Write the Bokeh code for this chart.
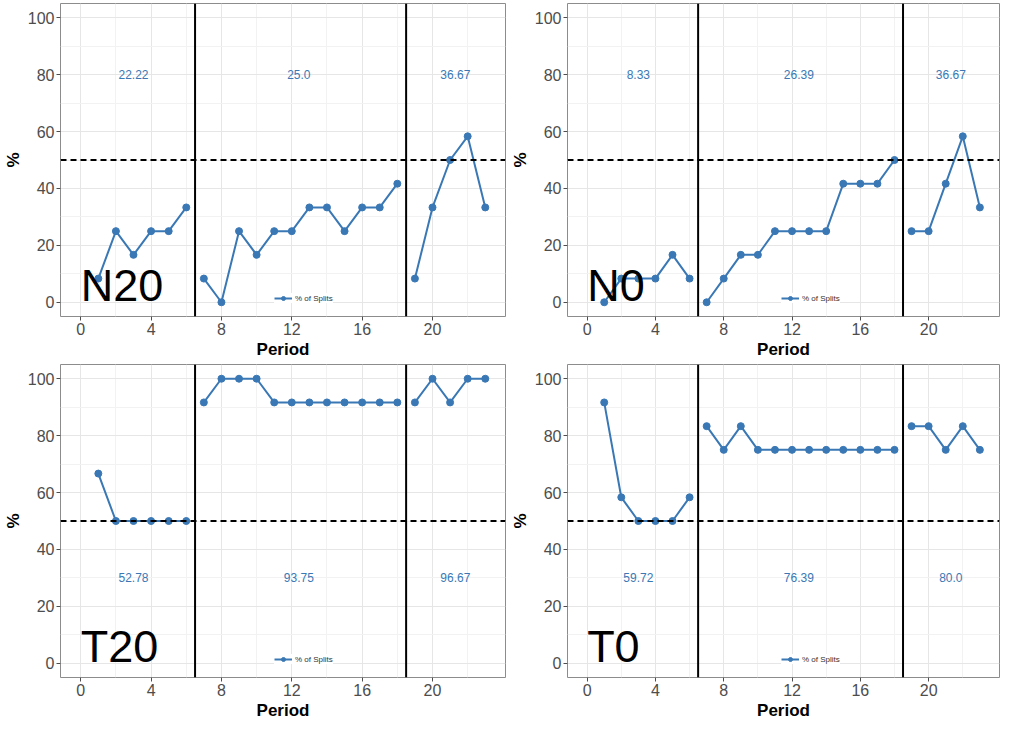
from bokeh.plotting import figure
from bokeh.layouts import column, row
from bokeh.models import Range1d, FixedTicker, Span, Legend, LegendItem
from bokeh.core.properties import value
from bokeh.embed import file_html
from bokeh.resources import INLINE

periods = list(range(1, 24))
n20 = [8.33, 25, 16.67, 25, 25, 33.33,
       8.33, 0, 25, 16.67, 25, 25, 33.33, 33.33, 25, 33.33, 33.33, 41.67,
       8.33, 33.33, 50, 58.33, 33.33]
n0 = [0, 8.33, 8.33, 8.33, 16.67, 8.33,
      0, 8.33, 16.67, 16.67, 25, 25, 25, 25, 41.67, 41.67, 41.67, 50,
      25, 25, 41.67, 58.33, 33.33]
t20 = [66.67, 50, 50, 50, 50, 50,
       91.67, 100, 100, 100, 91.67, 91.67, 91.67, 91.67, 91.67, 91.67, 91.67, 91.67,
       91.67, 100, 91.67, 100, 100]
t0 = [91.67, 58.33, 50, 50, 50, 58.33,
      83.33, 75, 83.33, 75, 75, 75, 75, 75, 75, 75, 75, 75,
      83.33, 83.33, 75, 83.33, 75]
n20_means = ["22.22", "25.0", "36.67"]
n0_means = ["8.33", "26.39", "36.67"]
t20_means = ["52.78", "93.75", "96.67"]
t0_means = ["59.72", "76.39", "80.0"]
breaks = [6.5, 18.5]
x_ticks = [0, 4, 8, 12, 16, 20]
y_ticks = [0, 20, 40, 60, 80, 100]

BLUE = "#3A78B5"
FONT = "Liberation Sans"


def panel(name, vals, means, label_y, fw, fh, bl, bb, legend_x):
    p = figure(frame_width=fw, frame_height=fh, output_backend="svg", toolbar_location=None,
               x_range=Range1d(-1.15, 24.15), y_range=Range1d(-5, 105),
               min_border_left=bl, min_border_right=2, min_border_top=3,
               min_border_bottom=bb)
    p.outline_line_color = "#8c8c8c"
    p.outline_line_width = 1
    p.background_fill_color = "white"
    p.border_fill_color = "white"

    p.xaxis.ticker = FixedTicker(ticks=x_ticks, minor_ticks=[2, 6, 10, 14, 18, 22])
    p.yaxis.ticker = FixedTicker(ticks=y_ticks, minor_ticks=[10, 30, 50, 70, 90])
    p.xgrid.ticker = p.xaxis.ticker
    p.ygrid.ticker = p.yaxis.ticker
    for g in (p.xgrid, p.ygrid):
        g.grid_line_color = "#e6e6e6"
        g.grid_line_width = 1
        g.minor_grid_line_color = "#f2f2f2"
        g.minor_grid_line_width = 1
    for ax in (p.xaxis, p.yaxis):
        ax.axis_line_color = None
        ax.major_tick_line_color = "#4d4d4d"
        ax.major_tick_out = 4
        ax.major_tick_in = 0
        ax.minor_tick_line_color = None
        ax.major_label_text_font = FONT
        ax.major_label_text_font_size = "16px"
        ax.major_label_text_color = "#4d4d4d"
        ax.major_label_standoff = 2
        ax.axis_label_text_font = FONT
        ax.axis_label_text_font_style = "bold"
        ax.axis_label_text_font_size = "17px"
        ax.axis_label_text_color = "black"
        ax.axis_label_standoff = 2
    p.xaxis.axis_label = "Period"
    p.yaxis.axis_label = "%"

    p.add_layout(Span(location=50, dimension="width", line_color="black",
                      line_width=2, line_dash="6 4"))
    for b in breaks:
        p.add_layout(Span(location=b, dimension="height", line_color="black", line_width=2))

    edges = [0] + breaks + [24]
    renders = []
    for i in range(len(edges) - 1):
        xs = [x for x in periods if edges[i] < x < edges[i + 1]]
        ys = [v for x, v in zip(periods, vals) if edges[i] < x < edges[i + 1]]
        l = p.line(xs, ys, line_color=BLUE, line_width=2)
        c = p.scatter(xs, ys, size=7, color=BLUE)
        if i == 0:
            renders = [l, c]

    label_x = [3.0, 12.4, 21.3]
    p.text(x=label_x, y=[label_y] * 3, text=means, text_align="center",
           text_baseline="middle", text_color=BLUE, text_font=value(FONT),
           text_font_size="12px")
    p.text(x=[0], y=[0], text=[name], text_align="left", text_baseline="bottom",
           y_offset=9, text_color="black", text_font=value(FONT), text_font_size="45px")

    leg = Legend(items=[LegendItem(label="% of Splits", renderers=renders)],
                 location=(legend_x, 13), orientation="horizontal",
                 label_text_font=FONT, label_text_font_size="8px",
                 label_text_color="#333333", glyph_width=18, glyph_height=10,
                 padding=3, spacing=2, margin=0, label_standoff=3,
                 background_fill_color="white", background_fill_alpha=1,
                 border_line_color=None, label_height=10)
    p.add_layout(leg, "center")
    return p


p1 = panel("N20", n20, n20_means, 80, 445, 313, 50, 40, 214)
p2 = panel("N0", n0, n0_means, 80, 432, 313, 58, 40, 214)
p3 = panel("T20", t20, t20_means, 30, 445, 313, 50, 40, 214)
p4 = panel("T0", t0, t0_means, 30, 432, 313, 58, 40, 214)

layout = column(row(p1, p2), row(p3, p4))
open("out.html", "w").write(file_html(layout, INLINE))
